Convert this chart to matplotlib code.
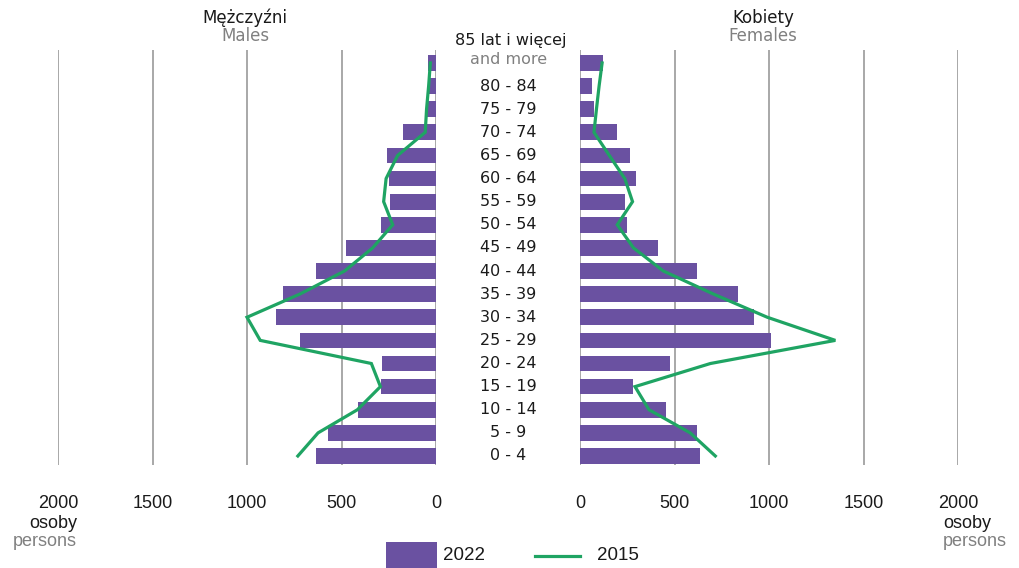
import matplotlib
matplotlib.use("Agg")
import matplotlib.pyplot as plt
from matplotlib.transforms import blended_transform_factory
from matplotlib.lines import Line2D
from matplotlib.patches import Rectangle

ages = ["0 - 4", "5 - 9", "10 - 14", "15 - 19", "20 - 24", "25 - 29", "30 - 34",
        "35 - 39", "40 - 44", "45 - 49", "50 - 54", "55 - 59", "60 - 64",
        "65 - 69", "70 - 74", "75 - 79", "80 - 84", "85 lat i więcej"]
males_2022 = [633, 569, 411, 290, 285, 717, 844, 807, 633, 475, 290, 243, 248, 259, 173, 46, 35, 41]
females_2022 = [636, 620, 456, 280, 477, 1013, 923, 836, 620, 413, 248, 237, 296, 264, 195, 73, 62, 121]
males_2015 = [731, 624, 416, 294, 342, 930, 1000, 721, 484, 335, 229, 277, 264, 203, 57, 50, 39, 30]
females_2015 = [716, 583, 365, 291, 690, 1351, 991, 707, 441, 283, 197, 278, 237, 155, 74, 87, 101, 117]
ticks = [0, 500, 1000, 1500, 2000]
years = ["2022", "2015"]

PURPLE = "#6a51a1"
GREEN = "#1fa463"
GRID = "#9a9a9a"
DARK = "#1a1a1a"
GRAY = "#808080"
W, H = 1019, 568

plt.rcParams["font.family"] = ["Liberation Sans", "DejaVu Sans"]
fig = plt.figure(figsize=(W / 100, H / 100), dpi=100)

def fx(px):
    return px / W

def fy(py):
    return 1 - py / H

bottom, top = fy(465), fy(50)
axL = fig.add_axes([fx(58), bottom, fx(436) - fx(58), top - bottom])
axR = fig.add_axes([fx(580), bottom, fx(958) - fx(580), top - bottom])
ypos = list(range(len(ages)))

for ax, bars, line in [(axL, males_2022, males_2015), (axR, females_2022, females_2015)]:
    for t in ticks:
        ax.axvline(t, color=GRID, lw=1.2, zorder=0)
    ax.barh(ypos, bars, height=0.68, color=PURPLE, zorder=2)
    ax.plot(line, ypos, color=GREEN, lw=2.3, zorder=3, solid_joinstyle="miter")
    ax.set_xlim(0, 2000)
    ax.set_ylim(-0.39, 17.56)
    ax.axis("off")
axL.invert_xaxis()

tick_font = ["Liberation Sans", "DejaVu Sans"]
lab_font = ["DejaVu Sans"]
for ax in (axL, axR):
    tr = blended_transform_factory(ax.transData, fig.transFigure)
    for t in ticks:
        ax.text(t, fy(503), str(t), transform=tr, ha="center", va="center",
                fontsize=13, color=DARK, family=tick_font)

fig.text(fx(77), fy(523), "osoby", ha="right", va="center", fontsize=13, color=DARK, family=tick_font)
fig.text(fx(77), fy(542), "persons", ha="right", va="center", fontsize=13, color=GRAY, family=tick_font)
fig.text(fx(943), fy(523), "osoby", ha="left", va="center", fontsize=13, color=DARK, family=tick_font)
fig.text(fx(943), fy(542), "persons", ha="left", va="center", fontsize=13, color=GRAY, family=tick_font)

# age labels
trL = blended_transform_factory(fig.transFigure, axL.transData)
for i, a in enumerate(ages[:-1]):
    axL.text(fx(508), i, a, transform=trL, ha="center", va="center", fontsize=11.5,
             color=DARK, family=lab_font)
fig.text(fx(511), fy(41), ages[-1], ha="center", va="center", fontsize=11.5, color=DARK, family=lab_font)
fig.text(fx(509), fy(59), "and more", ha="center", va="center", fontsize=11.5, color=GRAY, family=lab_font)

fig.text(fx(245), fy(18), "Mężczyźni", ha="center", va="center", fontsize=12, color=DARK, family=lab_font)
fig.text(fx(245), fy(36), "Males", ha="center", va="center", fontsize=12, color=GRAY, family=lab_font)
fig.text(fx(763), fy(18), "Kobiety", ha="center", va="center", fontsize=12, color=DARK, family=lab_font)
fig.text(fx(763), fy(36), "Females", ha="center", va="center", fontsize=12, color=GRAY, family=lab_font)

# legend (drawn manually)
fig.add_artist(Rectangle((fx(386), fy(572)), fx(437) - fx(386), fy(542) - fy(572),
                         transform=fig.transFigure, facecolor=PURPLE, edgecolor="none"))
fig.text(fx(443), fy(556), years[0], ha="left", va="center", fontsize=13.5, color=DARK, family=tick_font)
fig.add_artist(Line2D([fx(535), fx(580)], [fy(556), fy(556)], transform=fig.transFigure,
                      color=GREEN, lw=2.3))
fig.text(fx(597), fy(556), years[1], ha="left", va="center", fontsize=13.5, color=DARK, family=tick_font)

fig.savefig("out.png", dpi=100)
